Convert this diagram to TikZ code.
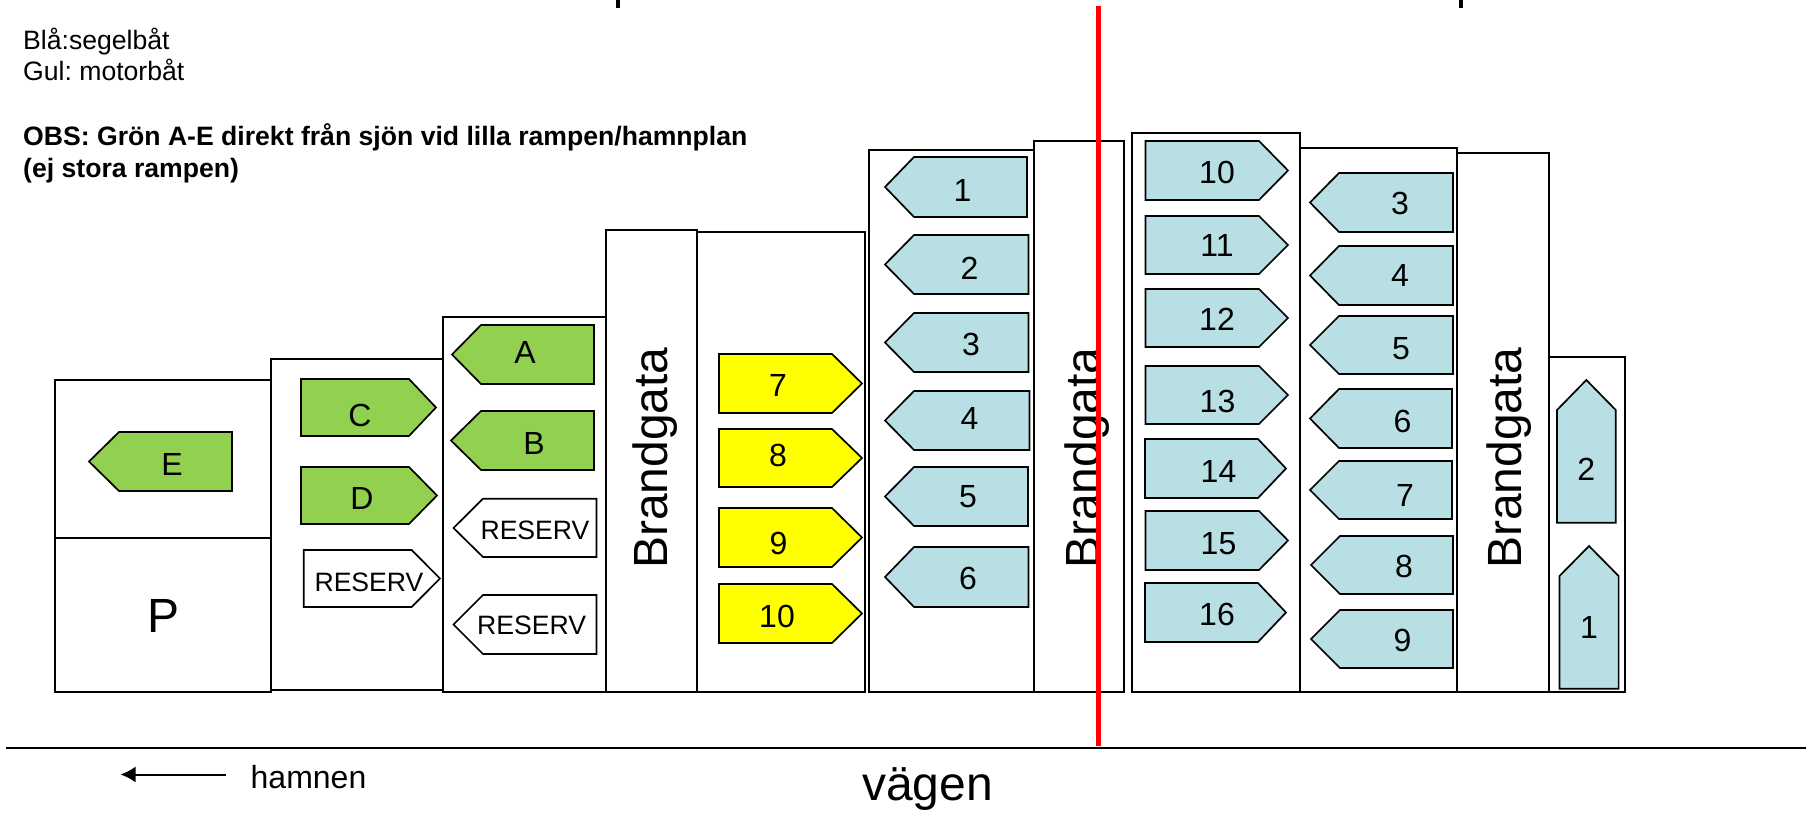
\documentclass[tikz,border=0pt]{standalone}
\usepackage{fontspec}
\setmainfont{Liberation Sans}
\frenchspacing
\usetikzlibrary{arrows.meta}
\definecolor{sailblue}{RGB}{184,223,227}
\definecolor{motoryellow}{RGB}{255,255,0}
\definecolor{rampgreen}{RGB}{146,208,80}
\tikzset{
	% box
	cstbox/.style       ={draw=black,line width=2pt},
	% boat
	cstboat/.style      ={draw=black,line width=1.7pt,line join=miter},
	cstlabel/.style     ={anchor=base,inner sep=0pt,yshift=-12.5pt,font=\fontsize{32}{32}\selectfont},
	cstreserv/.style    ={anchor=base,inner sep=0pt,yshift=-10.5pt,font=\fontsize{26.6}{26.6}\selectfont},
	% text
	cstnote/.style      ={anchor=base west,inner sep=0pt,font=\fontsize{26.6}{26.6}\selectfont},
	cstnoteb/.style     ={anchor=base west,inner sep=0pt,font=\fontsize{26.6}{26.6}\selectfont\bfseries},
	cstbig/.style       ={anchor=base,inner sep=0pt,font=\fontsize{48}{48}\selectfont},
	cstgata/.style      ={anchor=base west,inner sep=0pt,rotate=90,font=\fontsize{48}{48}\selectfont},
	% line
	cstroad/.style      ={draw=black,line width=2pt},
	cstred/.style       ={draw=red,line width=5.5pt},
	cstarrow/.style     ={-{Latex[length=15pt,width=16pt]},line width=2pt}
}
\begin{document}
\begin{tikzpicture}[x=1pt,y=-1pt]
	\useasboundingbox (0,0) rectangle (1808,816);
	% cut strokes at the upper edge
	\draw[line width=4pt] (617.5,0)--(617.5,8);
	\draw[line width=4pt] (1460.5,0)--(1460.5,8);
	% notes
	\node[cstnote] (noteblue) at (23,49.5) {Blå:segelbåt};
	\node[cstnote] (noteyellow) at (23,80.5) {Gul: motorbåt};
	\node[cstnoteb] (noteobs) at (23,145.5) {OBS: Grön A-E direkt från sjön vid lilla rampen/hamnplan};
	\node[cstnoteb] (noteramp) at (23,177) {(ej stora rampen)};
	% rows
	\foreach \xa/\ya/\xb/\yb in {55/380/270.5/692,55/538/270.5/692,270.5/359/443/690,443/317/606/692,
		606/230/697/692,697/232/865/692,869/150/1034/692,1034/141/1123.5/692,
		1131.5/133/1299.5/692,1299.5/148/1457/692,1457/153/1548.5/692,1548.5/357/1625/692}
		\draw[cstbox] (\xa,\ya) rectangle (\xb,\yb);
	\foreach \nm/\xb in {gatal/667.5,gatam/1099.5,gatar/1521}
		\node[cstgata] (\nm) at (\xb,569) {Brandgata};
	\node[cstbig] (parking) at (163.6,632) {P};
	% boats, pointing left
	\foreach \nm/\col/\xt/\xs/\xb/\ya/\yb/\lx/\ly/\txt in {
		bA/rampgreen/452/481/594/325/384/525/351/A,
		bB/rampgreen/451/481/594/411/470/534/442/B,
		bE/rampgreen/89/119/232/432/491/172/463/E,
		ba1/sailblue/885/914/1027/157/217/962.5/189/1,
		ba2/sailblue/885/914/1028.5/235/294/969.5/267/2,
		ba3/sailblue/885/914/1028.5/313/372/971/343/3,
		ba4/sailblue/885/914/1029.5/391/450/969.5/417/4,
		ba5/sailblue/885/914/1028/467/526/968/495/5,
		ba6/sailblue/885/914/1028.5/547/607/968/577/6,
		bc3/sailblue/1310/1339/1453/173/232/1400/202/3,
		bc4/sailblue/1310/1339/1453/246/305/1400/274/4,
		bc5/sailblue/1310/1339/1453/316/374/1401/347/5,
		bc6/sailblue/1310/1339/1452/389/448/1402.6/420/6,
		bc7/sailblue/1310/1339/1452/461/519/1405/494/7,
		bc8/sailblue/1311/1340/1453/536/594/1404/565/8,
		bc9/sailblue/1311/1340/1453/610/668/1402.6/639/9}
	{
		\draw[cstboat,fill=\col] (\xt,{(\ya+\yb)/2})--(\xs,\ya)--(\xb,\ya)--(\xb,\yb)--(\xs,\yb)--cycle;
		\node[cstlabel] (\nm) at (\lx,\ly) {\txt};
	}
	% boats, pointing right
	\foreach \nm/\col/\xb/\xs/\xt/\ya/\yb/\lx/\ly/\txt in {
		bC/rampgreen/301/409/436/379/436/360/414/C,
		bD/rampgreen/301/409/437/467/524/362/497/D,
		by7/motoryellow/719/832/862/354/413/778/384/7,
		by8/motoryellow/719/832/862/429/487/778/454/8,
		by9/motoryellow/719/832/862/508/567/778.5/542/9,
		by10/motoryellow/719/832/862/584/643/777/615/10,
		bb10/sailblue/1145.5/1259/1288/141/200/1217/171/10,
		bb11/sailblue/1145.5/1259/1288/216/274/1217/244/11,
		bb12/sailblue/1145.5/1259/1288/289/347/1217/318/12,
		bb13/sailblue/1145.5/1259/1288/366/424/1217.5/400/13,
		bb14/sailblue/1145/1258/1286/439/498/1218.5/470/14,
		bb15/sailblue/1145.5/1259/1288/511/570/1218.5/542/15,
		bb16/sailblue/1145/1258/1286/583/642/1217/613/16}
	{
		\draw[cstboat,fill=\col] (\xt,{(\ya+\yb)/2})--(\xs,\ya)--(\xb,\ya)--(\xb,\yb)--(\xs,\yb)--cycle;
		\node[cstlabel] (\nm) at (\lx,\ly) {\txt};
	}
	% boats, pointing up
	\foreach \nm/\xa/\xb/\yt/\ys/\yb/\ly/\txt in {
		bd2/1557/1615.7/380/410/522.7/468/2,
		bd1/1559.5/1618.6/546/576/688.7/626/1}
	{
		\draw[cstboat,fill=sailblue] ({(\xa+\xb)/2},\yt)--(\xb,\ys)--(\xb,\yb)--(\xa,\yb)--(\xa,\ys)--cycle;
		\node[cstlabel] (\nm) at ({(\xa+\xb)/2},\ly) {\txt};
	}
	% spare places
	\draw[cstboat,fill=white] (453.5,528)--(483,498.7)--(596.5,498.7)--(596.5,557)--(483,557)--cycle;
	\node[cstreserv] (reservb) at (535,529) {RESERV};
	\draw[cstboat,fill=white] (453.5,624.5)--(483,595)--(596.5,595)--(596.5,654)--(483,654)--cycle;
	\node[cstreserv] (reservc) at (531.6,624) {RESERV};
	\draw[cstboat,fill=white] (440,578.5)--(411.6,550)--(303.7,550)--(303.7,607)--(411.6,607)--cycle;
	\node[cstreserv] (reserva) at (369,581) {RESERV};
	% road
	\coordinate (roadw) at (6,747.5);
	\coordinate (roade) at (1806,747.5);
	\draw[cstroad] (roadw)--(roade);
	\coordinate (redn) at (1098.6,6);
	\coordinate (reds) at (1098.6,746);
	\draw[cstred] (redn)--(reds);
	\coordinate (arrowe) at (225.6,774.5);
	\coordinate (arroww) at (120.5,774.5);
	\draw[cstarrow] (arrowe)--(arroww);
	\node[cstnote,font=\fontsize{32}{32}\selectfont] (harbour) at (250.5,788) {hamnen};
	\node[cstbig] (road) at (927.5,800) {vägen};
\end{tikzpicture}
\end{document}
